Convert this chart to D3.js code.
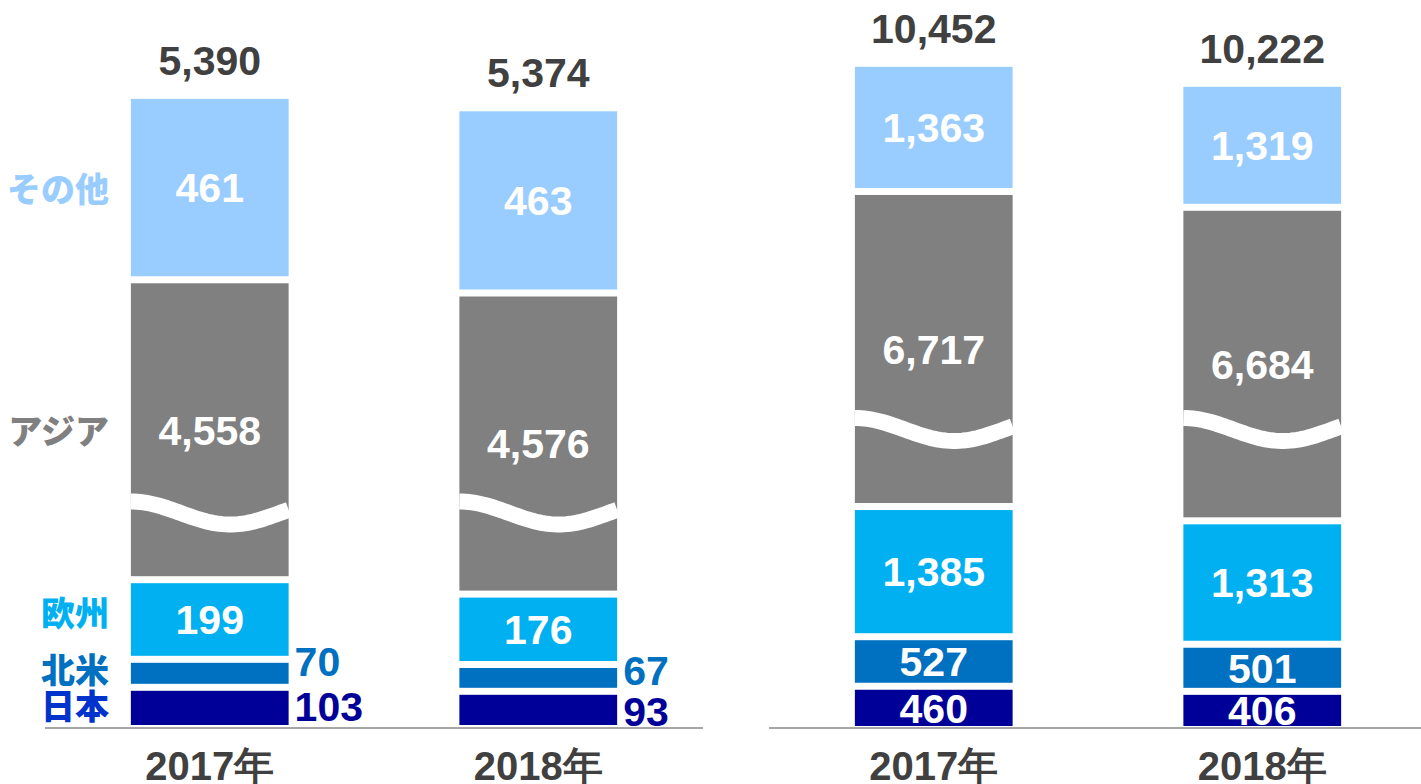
<!DOCTYPE html>
<html><head><meta charset="utf-8">
<script src="https://cdn.jsdelivr.net/npm/d3@7"></script>
<style>body{margin:0;background:#fff}svg{display:block}</style>
</head><body><svg id="c" width="1421" height="784"></svg>
<script>
// ---- data ----
const regions = ["日本", "北米", "欧州", "アジア", "その他"];
const regionColors = ["#000099", "#0070c0", "#00b0f0", "#808080", "#99ccff"];
const regionLabelColors = ["#0033cc", "#0070c0", "#00b0f0", "#808080", "#99ccff"];
const years = ["2017年", "2018年"];
const left2017 = [103, 70, 199, 4558, 461];
const left2018 = [93, 67, 176, 4576, 463];
const leftTotals = [5390, 5374];
const right2017 = [460, 527, 1385, 6717, 1363];
const right2018 = [406, 501, 1313, 6684, 1319];
const rightTotals = [10452, 10222];

// ---- layout ----
const svg = d3.select("#c");
const fmt = d3.format(",");
const NUM_FONT = "'Liberation Sans', Arial, sans-serif";
const JP_FONT = "'Noto Sans CJK JP', 'Liberation Sans', sans-serif";
const NUM_SIZE = 41;
const JP_SIZE = 34;
const GAP = 7;
const ASIA = 3;

const panels = [
  { series: [left2017, left2018], totals: leftTotals, xRange: [45, 703], lineEnd: 703,
    bottom: 725, pxPerUnit: 0.4, asiaFactor: 0.1645, breakY: 501.5, outside: [0, 1] },
  { series: [right2017, right2018], totals: rightTotals, xRange: [769, 1427], lineEnd: 1421,
    bottom: 726, pxPerUnit: 0.094, asiaFactor: 0.499, breakY: 418, outside: [] }
];

function capDy(size) { return size * 0.36; }

panels.forEach((p, pi) => {
  const x = d3.scaleBand().domain(years).range(p.xRange)
    .paddingInner(0.5198).paddingOuter(0.2614);
  const y = d3.scaleLinear().domain([0, 1000]).range([p.bottom, p.bottom - 1000 * p.pxPerUnit]);
  const g = svg.append("g");

  // baseline
  g.append("line")
    .attr("x1", p.xRange[0]).attr("x2", p.lineEnd)
    .attr("y1", 728).attr("y2", 728)
    .attr("stroke", "#a6a6a6").attr("stroke-width", 2);

  years.forEach((yr, bi) => {
    const vals = p.series[bi];
    const disp = vals.map((v, i) => i === ASIA ? v * p.asiaFactor : v);
    const x0 = x(yr), w = x.bandwidth();
    let cum = 0;
    const segs = disp.map((d, i) => {
      const s = { i, start: cum, end: cum + d, value: vals[i] };
      cum += d;
      return s;
    });

    g.selectAll(null).data(segs).enter().append("rect")
      .attr("x", x0).attr("width", w)
      .attr("y", s => y(s.end) + GAP)
      .attr("height", s => y(s.start) - y(s.end) - GAP)
      .attr("fill", s => regionColors[s.i]);

    // wave break on Asia
    const A = 23, tm = 0.63;
    const pts = d3.range(0, 1.0001, 0.02).map(t => [x0 + t * w, p.breakY + A * (1 - Math.cos(Math.PI * t / tm)) / 2]);
    g.append("path")
      .attr("d", d3.line()(pts))
      .attr("fill", "none").attr("stroke", "#fff").attr("stroke-width", 16);

    // segment labels
    segs.forEach(s => {
      const cy = (y(s.end) + GAP + y(s.start)) / 2;
      const isOut = p.outside.includes(s.i);
      const t = g.append("text")
        .attr("font-family", NUM_FONT).attr("font-weight", "bold")
        .attr("font-size", NUM_SIZE)
        .text(fmt(s.value));
      if (isOut) {
        const off = s.i === 1 ? (bi === 0 ? -12 : -8) : (bi === 0 ? -2 : 1);
        t.attr("x", x0 + w + 6).attr("y", cy + off + capDy(NUM_SIZE))
          .attr("text-anchor", "start").attr("fill", regionColors[s.i]);
      } else {
        t.attr("x", x0 + w / 2).attr("y", cy + capDy(NUM_SIZE))
          .attr("text-anchor", "middle").attr("fill", "#fff");
      }
    });

    // total label
    g.append("text")
      .attr("x", x0 + w / 2).attr("y", y(cum) + GAP - 39 + capDy(NUM_SIZE))
      .attr("text-anchor", "middle")
      .attr("font-family", NUM_FONT).attr("font-weight", "bold").attr("font-size", NUM_SIZE)
      .attr("fill", "#404040")
      .text(fmt(p.totals[bi]));

    // year label
    g.append("text")
      .attr("x", x0 + w / 2).attr("y", 766 + capDy(40))
      .attr("text-anchor", "middle")
      .attr("font-family", NUM_FONT).attr("font-weight", "bold").attr("font-size", 40)
      .attr("fill", "#404040")
      .text(yr);

    // region names left of the first bar
    if (pi === 0 && bi === 0) {
      const labOff = [-2, -3, -6, 1, 1];
      segs.forEach(s => {
        const cy = (y(s.end) + GAP + y(s.start)) / 2 + labOff[s.i];
        g.append("text")
          .attr("x", 109).attr("y", cy + JP_SIZE * 0.38)
          .attr("text-anchor", "end")
          .attr("font-family", JP_FONT).attr("font-weight", 900).attr("font-size", JP_SIZE)
          .attr("fill", regionLabelColors[s.i])
          .text(regions[s.i]);
      });
    }
  });
});
</script>
</body></html>
